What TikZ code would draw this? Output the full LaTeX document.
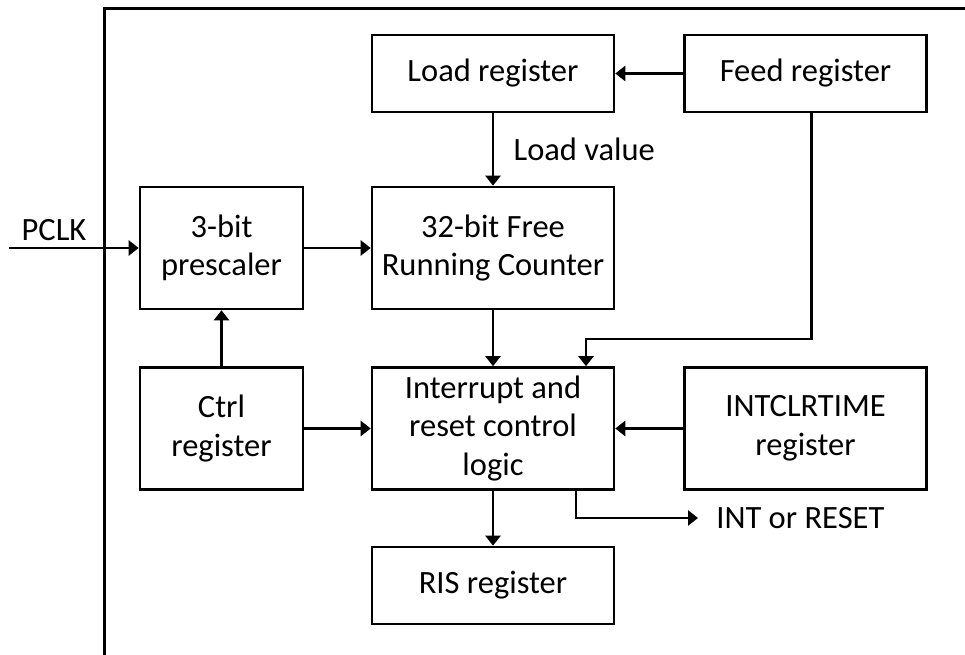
\documentclass[tikz,border=0pt]{standalone}
\usepackage{fontspec}
\setmainfont{Carlito}
\usepackage{tikz}
\usetikzlibrary{arrows.meta, positioning, calc}

\begin{document}
\begin{tikzpicture}[
    x=0.02cm, y=-0.02cm,
    block/.style={rectangle, draw=black, line width=1.5pt, fill=white, minimum width=4.84cm, minimum height=1.54cm, inner sep=2pt, font=\fontsize{18.5}{22}\selectfont, align=center},
    tall/.style={minimum height=2.44cm},
    narrow/.style={minimum width=3.26cm},
    lbl/.style={font=\fontsize{18.5}{22}\selectfont, inner sep=0pt},
    arrow/.style={-{Triangle[length=0.2cm, width=0.3cm]}, line width=1.5pt}
]
\useasboundingbox (0,0) rectangle (965,655);

% Outer frame (open to the right and bottom)
\draw[line width=1.5pt] (965,8.5) -| (104.5,655);

% Registers
\node[block] (load) at (493,73.5) {Load register};
\node[block] (feed) at (805.5,73.5) {Feed register};
\node[block, tall, narrow] (presc) at (221.5,248) {3-bit\\prescaler};
\node[block, tall] (cnt) at (493,248) {32-bit Free\\Running Counter};
\node[block, tall, narrow] (ctrl) at (221.5,428.5) {Ctrl\\register};
\node[block, tall] (intr) at (493,428.5) {Interrupt and\\reset control\\logic};
\node[block, tall] (clrtime) at (805.5,428.5) {INTCLRTIME\\register};
\node[block] (ris) at (493,585.5) {RIS register};

% Inputs and outputs
\coordinate (pclk) at (9,248);
\node[lbl, anchor=south] (pclklbl) at (54,241) {PCLK};
\coordinate (fbend) at (586,339);
\coordinate (intout) at (698,518);
\node[lbl, anchor=west] (intlbl) at (716,518) {INT or RESET};

% Arrows
\draw[arrow] (pclk) -- (presc);
\draw[arrow] (feed) -- (load);
\draw[arrow] (load) -- (cnt) node[midway, right, lbl, xshift=11] {Load value};
\draw[arrow] (presc) -- (cnt);
\draw[arrow] (ctrl) -- (presc);
\draw[arrow] (cnt) -- (intr);
\draw[arrow] ([xshift=0.12cm]feed.south) |- (fbend) -- (fbend |- intr.north);
\draw[arrow] (ctrl) -- (intr);
\draw[arrow] (clrtime) -- (intr);
\draw[arrow] (intr) -- (ris);
\draw[arrow] ([xshift=1.66cm]intr.south) |- (intout);
\end{tikzpicture}
\end{document}
